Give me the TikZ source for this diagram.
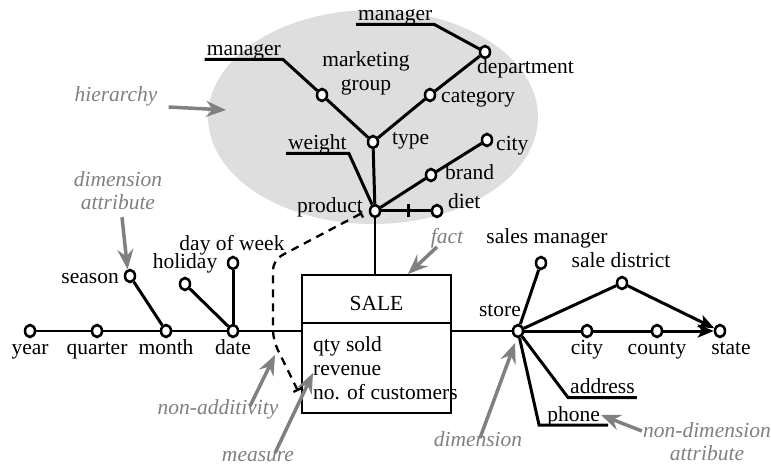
\documentclass[tikz,border=0pt]{standalone}
\usepackage{fontspec}
\setmainfont{Liberation Serif}
\usetikzlibrary{arrows.meta}
\usetikzlibrary{shapes.geometric}

\begin{document}
\begin{tikzpicture}[x=1pt, y=-1pt, font=\fontsize{21.5}{24}\selectfont,
  dot/.style={ellipse, draw, fill=white, line width=2.5pt, inner sep=0pt,
              minimum width=10pt, minimum height=12pt},
  lbl/.style={inner sep=1pt, text height=0.7em, text depth=0.25em},
  note/.style={lbl, text=gray, font=\fontsize{21.5}{23}\selectfont\itshape},
  twonote/.style={inner sep=1pt, align=center, text=gray,
                  font=\fontsize{21.5}{23}\selectfont\itshape},
  link/.style={line width=3pt},
  pointer/.style={draw=gray, line width=3.5pt,
                  -{Stealth[length=20pt, width=16pt, inset=7pt]}},
  factbox/.style={draw, line width=2.8pt, outer sep=0pt, minimum width=149pt}]
\useasboundingbox (0,0) rectangle (771,470);
\fill[black!13] (373,117) ellipse [x radius=165pt, y radius=107pt];

\node[dot] (year) at (30,331) {};
\node[dot] (quarter) at (97,331) {};
\node[dot] (month) at (166,331) {};
\node[dot] (date) at (233,331) {};
\node[dot] (season) at (130,276) {};
\node[dot] (holiday) at (185,284) {};
\node[dot] (dow) at (233,263) {};
\node[lbl] (yearl) at (30,352) {year};
\node[lbl] (quarterl) at (97,352) {quarter};
\node[lbl] (monthl) at (166,352) {month};
\node[lbl] (datel) at (233,352) {date};
\node[lbl, anchor=east] (seasonl) at (120,281) {season};
\node[lbl] (holidayl) at (185,266) {holiday};
\node[lbl] (dowl) at (232,248) {day of week};

\node[dot] (product) at (375,211) {};
\node[dot] (diet) at (437,211) {};
\node[dot] (brand) at (431,175) {};
\node[dot] (cityp) at (487,140) {};
\node[dot] (type) at (373,142) {};
\node[dot] (mgroup) at (322,95) {};
\node[dot] (category) at (430,95) {};
\node[dot] (dept) at (485,52) {};
\node[lbl, anchor=east] (productl) at (364,210) {product};
\node[lbl, anchor=west] (dietl) at (447,206) {diet};
\node[lbl, anchor=west] (brandl) at (444,177) {brand};
\node[lbl, anchor=west] (citypl) at (495,148) {city};
\node[lbl, anchor=west] (typel) at (391,142) {type};
\node[lbl, anchor=west] (categoryl) at (440,100) {category};
\node[lbl, anchor=west] (deptl) at (476,71) {department};
\node[align=center, inner sep=1pt] (mgroupl) at (366,73) {marketing\\group};
\node[lbl, anchor=south east, inner xsep=2pt] (mgrA) at (283,59.5) {manager};
\node[lbl, anchor=south west, inner xsep=2pt] (mgrB) at (356,24.5) {manager};
\node[lbl, anchor=south west, inner xsep=2pt] (weight) at (286,153.5) {weight};

\node[factbox, minimum height=48pt, text height=24pt, text depth=0pt] (sale) at (376.5,299) {SALE};
\node[factbox, minimum height=90pt, anchor=north] (meas) at (sale.south) {};
\node[anchor=west, align=left, inner sep=0pt] (measures) at (313,368) {qty sold\\revenue\\no. of customers};

\node[dot] (store) at (518,331) {};
\node[dot] (cityd) at (587,331) {};
\node[dot] (county) at (657,331) {};
\node[dot] (state) at (720,331) {};
\node[dot] (smgr) at (541,263) {};
\node[dot] (sdist) at (622,283) {};
\node[lbl, anchor=east] (storel) at (522,314) {store};
\node[lbl] (citydl) at (587,352) {city};
\node[lbl] (countyl) at (657,352) {county};
\node[lbl] (statel) at (731,352) {state};
\node[lbl] (smgrl) at (547,241) {sales manager};
\node[lbl] (sdistl) at (621,265) {sale district};
\node[lbl, anchor=south west, inner xsep=2pt] (address) at (568,397.5) {address};
\node[lbl, anchor=south east, inner xsep=8pt] (phone) at (608,425) {phone};

\node[note] (hier) at (116,99) {hierarchy};
\node[twonote] (dimattr) at (118,191) {dimension\\attribute};
\node[note] (fact) at (447,241) {fact};
\node[note] (nonadd) at (218,412) {non-additivity};
\node[note] (measure) at (258,459) {measure};
\node[note] (dim) at (478,444) {dimension};
\node[twonote] (nondim) at (707,442) {non-dimension\\attribute};

\coordinate (hiertip) at (226,110);
\coordinate (facttip) at (408,274);
\coordinate (natop) at (362,213);
\coordinate (nabot) at (298,391);
\coordinate (natip) at (275,355);
\coordinate (meastip) at (313,373);
\coordinate (dimtip) at (515,343);
\coordinate (ndtip) at (601,415);

\draw[line width=2.5pt] (year) -- (quarter) -- (month) -- (date) -- (date -| meas.west);
\draw[line width=2.5pt] (meas.east |- store) -- (store);
\draw[link] (season) -- (month);
\draw[link] (holiday) -- (date);
\draw[link] (dow) -- (date);

\draw[line width=2.5pt] (product) -- (product |- sale.north);
\draw[link] (product) -- (type) -- (mgroup) -- (mgrA.south east) -- (mgrA.south west);
\draw[link] (type) -- (category) -- (dept) -- (mgrB.south east) -- (mgrB.south west);
\draw[link] (product) -- (weight.south east) -- (weight.south west);
\draw[link] (product) -- (brand) -- (cityp);
\draw[link] (product) -- node[pos=0.55, inner sep=0pt] {\rule{2.5pt}{13pt}} (diet);
\draw[dashed, line width=2.3pt, dash pattern=on 8pt off 6pt, rounded corners=10pt,
      {Bar[width=9pt]}-{Bar[width=9pt]}] (natop) -- (273,260) -- (273,340) -- (nabot);

\draw[link] (store) -- (smgr);
\draw[link] (store) -- (sdist);
\draw[link, -{Stealth[length=16pt, width=13pt, inset=4pt]}] (sdist) -- (state);
\draw[link, -{Stealth[length=16pt, width=13pt, inset=4pt]}] (store) -- (cityd) -- (county) -- (state);
\draw[link] (store) -- (address.south west) -- (address.south east);
\draw[link] (store) -- (phone.south west) -- (phone.south east);

\draw[pointer] ([xshift=10pt, yshift=-8pt]hier.east) -- (hiertip);
\draw[pointer] ([xshift=4pt, yshift=-6pt]dimattr.south) -- (season.110);
\draw[pointer] ([xshift=-10pt]fact.south) -- (facttip);
\draw[pointer] ([xshift=32pt]nonadd.north) -- (natip);
\draw[pointer] ([xshift=17pt]measure.north) -- (meastip);
\draw[pointer] ([xshift=2pt]dim.north) -- (dimtip);
\draw[pointer] ([yshift=11pt]nondim.west) -- (ndtip);
\end{tikzpicture}
\end{document}
